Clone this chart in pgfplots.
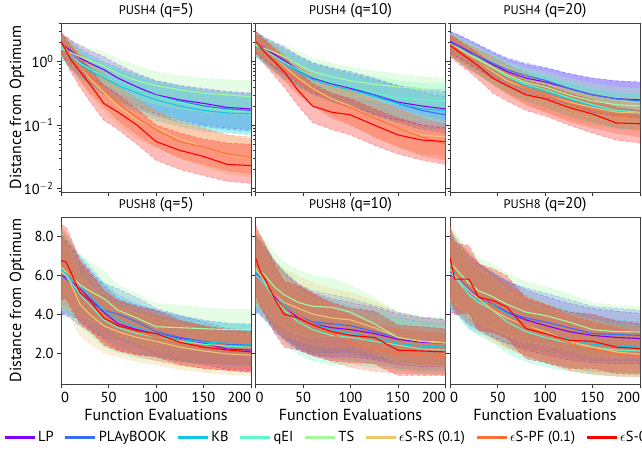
\documentclass[border=0pt]{standalone}
\usepackage{fontspec}
\setmainfont{PT Sans}
\usepackage{pgfplots}
\usepackage{pgfplotstable}
\pgfplotsset{compat=1.18}
\usepgfplotslibrary{fillbetween}

\definecolor{cLP}{HTML}{8000FF}
\definecolor{cPB}{HTML}{376FF9}
\definecolor{cKB}{HTML}{12C7E6}
\definecolor{cQE}{HTML}{5BF9C7}
\definecolor{cTS}{HTML}{A4F99F}
\definecolor{cRS}{HTML}{EDC76F}
\definecolor{cPF}{HTML}{FF6F39}
\definecolor{cE0}{HTML}{FF0000}

% ---------- push4, q=5 ----------
\pgfplotstableread[header=has colnames]{
x 0 5 10 20 30 45 60 80 100 125 150 175 200
Pm 1.9 1.7 1.5 1.15 0.95 0.75 0.55 0.40 0.30 0.25 0.22 0.19 0.18
Pl 1.3 1.1 0.95 0.7 0.55 0.42 0.3 0.2 0.15 0.12 0.1 0.09 0.085
Ph 2.7 2.5 2.2 1.8 1.5 1.2 0.9 0.65 0.5 0.42 0.38 0.34 0.32
Bm 1.8 1.6 1.35 1.0 0.8 0.6 0.46 0.36 0.29 0.24 0.20 0.18 0.17
Bl 1.2 1.0 0.85 0.6 0.45 0.32 0.24 0.18 0.14 0.11 0.095 0.085 0.08
Bh 2.6 2.4 2.1 1.6 1.3 1.0 0.8 0.62 0.5 0.42 0.36 0.33 0.31
Km 1.7 1.45 1.2 0.9 0.72 0.55 0.42 0.32 0.25 0.2 0.17 0.155 0.15
Kl 1.1 0.95 0.75 0.55 0.42 0.3 0.22 0.16 0.12 0.095 0.08 0.075 0.07
Kh 2.5 2.2 1.9 1.45 1.15 0.9 0.72 0.56 0.45 0.38 0.33 0.3 0.29
Qm 1.8 1.55 1.3 0.95 0.78 0.6 0.46 0.36 0.29 0.23 0.19 0.17 0.16
Ql 1.2 1.0 0.8 0.58 0.45 0.33 0.24 0.18 0.14 0.11 0.09 0.08 0.075
Qh 2.6 2.3 2.0 1.5 1.25 1.0 0.8 0.62 0.5 0.42 0.36 0.33 0.31
Tm 1.6 1.5 1.4 1.2 1.05 0.85 0.65 0.5 0.42 0.36 0.32 0.30 0.28
Tl 1.1 1.0 0.9 0.75 0.62 0.48 0.35 0.26 0.21 0.18 0.16 0.15 0.14
Th 2.4 2.3 2.1 1.85 1.65 1.4 1.1 0.85 0.7 0.6 0.55 0.52 0.5
Ym 2.0 1.6 1.3 0.85 0.55 0.33 0.20 0.12 0.09 0.06 0.045 0.034 0.030
Yl 1.3 1.0 0.8 0.5 0.3 0.17 0.1 0.06 0.045 0.03 0.022 0.017 0.015
Yh 2.9 2.4 2.0 1.4 0.95 0.6 0.38 0.24 0.17 0.12 0.09 0.07 0.06
Om 2.0 1.6 1.3 0.85 0.6 0.36 0.22 0.13 0.085 0.055 0.045 0.035 0.031
Ol 1.3 1.0 0.8 0.5 0.33 0.2 0.12 0.07 0.045 0.03 0.024 0.019 0.017
Oh 2.9 2.4 2.0 1.4 1.0 0.65 0.42 0.26 0.17 0.11 0.09 0.07 0.065
Rm 2.1 1.5 1.1 0.7 0.45 0.22 0.16 0.10 0.055 0.040 0.032 0.024 0.023
Rl 1.4 1.0 0.7 0.4 0.24 0.12 0.085 0.05 0.028 0.02 0.016 0.013 0.012
Rh 3.0 2.3 1.8 1.2 0.8 0.42 0.30 0.18 0.10 0.075 0.06 0.052 0.050
}\rawA
% ---------- push4, q=10 ----------
\pgfplotstableread[header=has colnames]{
x 0 5 10 20 30 45 60 80 100 125 150 175 200
Pm 2.0 1.8 1.6 1.3 1.05 0.75 0.55 0.45 0.38 0.3 0.23 0.2 0.18
Pl 1.35 1.2 1.05 0.82 0.65 0.45 0.32 0.25 0.2 0.15 0.12 0.1 0.09
Ph 2.9 2.7 2.4 2.0 1.7 1.25 0.95 0.78 0.66 0.53 0.42 0.37 0.34
Bm 1.9 1.7 1.5 1.2 1.0 0.72 0.56 0.46 0.4 0.3 0.22 0.17 0.145
Bl 1.25 1.1 0.98 0.75 0.6 0.42 0.32 0.25 0.21 0.15 0.11 0.085 0.075
Bh 2.8 2.6 2.3 1.9 1.6 1.2 0.95 0.8 0.7 0.55 0.42 0.33 0.28
Km 1.8 1.6 1.4 1.1 0.9 0.68 0.52 0.42 0.36 0.28 0.22 0.18 0.17
Kl 1.2 1.05 0.9 0.68 0.54 0.4 0.3 0.23 0.19 0.14 0.11 0.09 0.085
Kh 2.7 2.5 2.2 1.75 1.45 1.1 0.88 0.72 0.62 0.5 0.4 0.34 0.32
Qm 1.9 1.7 1.5 1.2 0.98 0.75 0.58 0.47 0.4 0.32 0.27 0.25 0.24
Ql 1.25 1.1 0.98 0.75 0.6 0.45 0.33 0.26 0.21 0.16 0.13 0.12 0.11
Qh 2.8 2.6 2.3 1.9 1.6 1.25 1.0 0.82 0.7 0.58 0.5 0.46 0.44
Tm 1.8 1.7 1.6 1.4 1.2 0.9 0.7 0.58 0.5 0.44 0.4 0.37 0.36
Tl 1.2 1.1 1.05 0.9 0.76 0.55 0.42 0.33 0.28 0.24 0.21 0.19 0.18
Th 2.7 2.6 2.4 2.1 1.85 1.45 1.15 0.95 0.82 0.72 0.64 0.58 0.55
Ym 2.0 1.7 1.5 1.1 0.85 0.55 0.38 0.26 0.2 0.13 0.09 0.07 0.065
Yl 1.35 1.1 1.0 0.7 0.52 0.32 0.21 0.14 0.1 0.065 0.045 0.035 0.032
Yh 2.9 2.5 2.2 1.7 1.35 0.9 0.65 0.47 0.37 0.26 0.18 0.14 0.12
Om 2.1 1.8 1.5 1.1 0.8 0.5 0.35 0.24 0.19 0.13 0.09 0.065 0.05
Ol 1.4 1.2 1.0 0.7 0.5 0.3 0.2 0.13 0.1 0.065 0.045 0.033 0.028
Oh 3.0 2.6 2.2 1.7 1.3 0.85 0.62 0.45 0.35 0.25 0.18 0.13 0.1
Rm 2.1 1.7 1.4 1.0 0.7 0.35 0.2 0.16 0.145 0.1 0.07 0.058 0.055
Rl 1.4 1.1 0.9 0.6 0.4 0.2 0.11 0.085 0.07 0.048 0.035 0.028 0.024
Rh 3.0 2.6 2.2 1.6 1.2 0.7 0.45 0.32 0.26 0.18 0.13 0.1 0.09
}\rawB
% ---------- push4, q=20 ----------
\pgfplotstableread[header=has colnames]{
x 0 5 10 20 30 45 60 80 100 125 150 175 200
Pm 2.1 1.9 1.75 1.45 1.2 0.9 0.7 0.55 0.48 0.38 0.3 0.26 0.25
Pl 1.4 1.25 1.15 0.92 0.75 0.55 0.42 0.32 0.27 0.21 0.16 0.14 0.13
Ph 3.0 2.8 2.6 2.2 1.85 1.4 1.1 0.9 0.8 0.65 0.55 0.5 0.48
Bm 2.0 1.85 1.7 1.4 1.2 0.95 0.75 0.6 0.51 0.38 0.3 0.26 0.24
Bl 1.3 1.2 1.1 0.9 0.75 0.58 0.45 0.35 0.29 0.21 0.16 0.14 0.13
Bh 3.0 2.8 2.6 2.2 1.85 1.45 1.15 0.95 0.82 0.65 0.55 0.5 0.47
Km 1.8 1.65 1.5 1.2 1.0 0.72 0.55 0.42 0.34 0.26 0.2 0.17 0.163
Kl 1.2 1.1 0.98 0.76 0.62 0.44 0.32 0.24 0.19 0.14 0.11 0.09 0.085
Kh 2.7 2.5 2.3 1.85 1.55 1.15 0.88 0.7 0.58 0.45 0.36 0.31 0.3
Qm 1.9 1.7 1.55 1.25 1.05 0.78 0.58 0.44 0.36 0.27 0.21 0.17 0.16
Ql 1.25 1.1 1.0 0.78 0.65 0.47 0.34 0.25 0.2 0.15 0.11 0.09 0.085
Qh 2.8 2.6 2.35 1.95 1.65 1.25 0.95 0.75 0.62 0.48 0.38 0.32 0.3
Tm 1.9 1.75 1.6 1.3 1.1 0.82 0.62 0.47 0.4 0.3 0.24 0.21 0.2
Tl 1.25 1.15 1.05 0.82 0.68 0.5 0.37 0.27 0.22 0.16 0.13 0.11 0.1
Th 2.8 2.6 2.4 2.0 1.7 1.3 1.0 0.8 0.7 0.55 0.45 0.4 0.38
Ym 1.9 1.7 1.5 1.25 1.0 0.7 0.5 0.38 0.3 0.23 0.19 0.16 0.155
Yl 1.25 1.1 0.98 0.78 0.62 0.42 0.29 0.21 0.16 0.12 0.1 0.085 0.08
Yh 2.8 2.5 2.2 1.85 1.55 1.1 0.82 0.63 0.5 0.38 0.31 0.27 0.26
Om 1.9 1.7 1.5 1.2 1.0 0.75 0.55 0.38 0.3 0.22 0.17 0.14 0.13
Ol 1.25 1.1 0.98 0.76 0.62 0.45 0.32 0.21 0.16 0.115 0.09 0.075 0.065
Oh 2.8 2.5 2.2 1.8 1.55 1.2 0.9 0.65 0.5 0.37 0.29 0.24 0.22
Rm 1.8 1.6 1.4 1.1 0.85 0.55 0.42 0.3 0.26 0.19 0.15 0.108 0.105
Rl 1.2 1.05 0.9 0.7 0.52 0.32 0.24 0.17 0.14 0.1 0.075 0.058 0.052
Rh 2.6 2.4 2.1 1.7 1.35 0.9 0.7 0.5 0.43 0.32 0.25 0.19 0.17
}\rawC
% ---------- push8, q=5 ----------
\pgfplotstableread[header=has colnames]{
x 0 5 10 20 30 45 60 80 100 125 150 175 200
Pm 6.0 5.9 5.7 5.3 4.8 4.1 3.5 3.2 3.0 2.75 2.5 2.2 2.14
Pl 4.0 4.0 3.9 3.7 3.3 2.7 2.2 1.95 1.8 1.6 1.4 1.15 1.1
Ph 8.0 7.8 7.5 6.9 6.3 5.5 4.8 4.45 4.2 3.9 3.6 3.25 3.2
Bm 6.0 5.8 5.6 5.0 4.6 4.2 4.0 3.6 3.1 2.8 2.6 2.45 2.4
Bl 4.0 3.9 3.8 3.4 3.1 2.8 2.7 2.35 1.9 1.65 1.5 1.4 1.35
Bh 8.0 7.7 7.4 6.6 6.1 5.6 5.3 4.85 4.3 3.95 3.7 3.5 3.45
Km 6.3 6.1 5.8 5.4 5.0 4.2 3.7 3.3 3.0 2.7 2.55 2.5 2.45
Kl 4.3 4.2 4.0 3.8 3.5 2.8 2.4 2.05 1.8 1.55 1.45 1.45 1.4
Kh 8.3 8.0 7.6 7.0 6.5 5.6 5.0 4.55 4.2 3.85 3.65 3.55 3.5
Qm 6.2 6.0 5.7 5.0 4.5 3.7 3.3 3.0 2.8 2.6 2.45 2.35 2.3
Ql 4.2 4.1 3.9 3.4 3.0 2.3 2.0 1.75 1.6 1.45 1.35 1.3 1.25
Qh 8.2 7.9 7.5 6.6 6.0 5.1 4.6 4.25 4.0 3.75 3.55 3.4 3.35
Tm 6.4 6.2 6.0 5.5 5.2 4.8 4.2 3.8 3.35 3.3 3.25 3.2 3.2
Tl 4.4 4.3 4.2 3.9 3.7 3.4 2.9 2.55 2.15 2.15 2.15 2.15 2.15
Th 8.4 8.1 7.8 7.1 6.7 6.2 5.5 5.05 4.55 4.45 4.35 4.25 4.25
Ym 6.2 6.0 5.6 4.5 4.0 3.4 3.1 2.8 2.6 2.3 2.1 1.95 1.88
Yl 4.2 4.1 3.8 2.9 2.5 2.0 1.8 1.55 1.4 1.15 1.0 0.9 0.83
Yh 8.2 7.9 7.4 6.1 5.5 4.8 4.4 4.05 3.8 3.45 3.2 3.0 2.93
Om 6.5 6.3 6.0 5.2 4.6 3.9 3.4 3.1 2.8 2.5 2.3 2.15 2.05
Ol 4.5 4.4 4.2 3.6 3.1 2.5 2.1 1.85 1.6 1.35 1.2 1.1 1.0
Oh 8.5 8.2 7.8 6.8 6.1 5.3 4.7 4.35 4.0 3.65 3.4 3.2 3.1
Rm 6.75 6.7 6.2 5.1 4.7 3.8 3.4 3.15 3.0 2.55 2.3 2.15 2.05
Rl 4.75 4.8 4.4 3.5 3.2 2.4 2.1 1.9 1.8 1.4 1.2 1.1 1.0
Rh 8.6 8.5 8.0 6.7 6.2 5.2 4.7 4.4 4.2 3.7 3.4 3.2 3.1
}\rawD
% ---------- push8, q=10 ----------
\pgfplotstableread[header=has colnames]{
x 0 5 10 20 30 45 60 80 100 125 150 175 200
Pm 6.0 5.8 5.5 4.9 4.4 3.8 3.5 3.3 3.2 3.0 2.7 2.55 2.5
Pl 4.1 3.95 3.7 3.15 2.7 2.15 1.9 1.8 1.8 1.65 1.4 1.3 1.3
Ph 7.9 7.65 7.3 6.65 6.1 5.45 5.1 4.8 4.6 4.35 4.0 3.8 3.7
Bm 6.1 5.9 5.6 5.0 4.5 3.9 3.6 3.5 3.4 3.1 2.8 2.6 2.56
Bl 4.2 4.05 3.8 3.25 2.8 2.25 2.0 2.0 2.0 1.75 1.5 1.35 1.36
Bh 8.0 7.75 7.4 6.75 6.2 5.55 5.2 5.0 4.8 4.45 4.1 3.85 3.76
Km 6.2 6.0 5.7 5.0 4.5 3.9 3.5 3.2 3.0 2.8 2.5 2.35 2.3
Kl 4.3 4.15 3.9 3.25 2.8 2.25 1.9 1.7 1.6 1.45 1.2 1.1 1.1
Kh 8.1 7.85 7.5 6.75 6.2 5.55 5.1 4.7 4.4 4.15 3.8 3.6 3.5
Qm 6.0 5.8 5.5 4.8 4.2 3.6 3.2 2.9 2.8 2.6 2.4 2.2 2.15
Ql 4.1 3.95 3.7 3.05 2.5 1.95 1.6 1.4 1.4 1.25 1.1 0.95 0.95
Qh 7.9 7.65 7.3 6.55 5.9 5.25 4.8 4.4 4.2 3.95 3.7 3.45 3.35
Tm 6.4 6.2 6.0 5.4 5.0 4.6 4.4 4.35 4.1 3.5 2.8 2.6 2.55
Tl 4.5 4.35 4.2 3.65 3.3 2.95 2.8 2.85 2.7 2.15 1.5 1.35 1.35
Th 8.3 8.05 7.8 7.15 6.7 6.25 6.0 5.85 5.5 4.85 4.1 3.85 3.75
Ym 6.3 6.0 5.6 5.0 4.6 4.3 4.0 3.8 3.7 3.3 2.8 2.6 2.5
Yl 4.4 4.15 3.8 3.25 2.9 2.65 2.4 2.3 2.3 1.95 1.5 1.35 1.3
Yh 8.2 7.85 7.4 6.75 6.3 5.95 5.6 5.3 5.1 4.65 4.1 3.85 3.7
Om 6.5 6.2 5.8 5.0 4.4 3.9 3.5 3.0 2.5 2.2 2.0 1.9 1.8
Ol 4.6 4.35 4.0 3.25 2.7 2.25 1.9 1.55 1.25 1.05 0.95 0.9 0.85
Oh 8.4 8.05 7.6 6.75 6.1 5.55 5.1 4.5 3.9 3.5 3.25 3.1 3.0
Rm 6.9 6.2 5.8 4.8 4.0 3.8 3.45 3.1 2.9 2.8 2.14 2.1 2.05
Rl 5.0 4.35 4.0 3.05 2.3 2.15 1.85 1.6 1.5 1.45 0.84 0.85 0.85
Rh 8.6 8.05 7.6 6.55 5.7 5.45 5.05 4.6 4.3 4.15 3.44 3.35 3.25
}\rawE
% ---------- push8, q=20 ----------
\pgfplotstableread[header=has colnames]{
x 0 5 10 20 30 45 60 80 100 125 150 175 200
Pm 6.0 5.9 5.7 5.2 4.9 4.5 4.1 3.7 3.42 3.1 2.9 2.8 2.74
Pl 4.1 4.05 3.9 3.45 3.2 2.85 2.5 2.15 1.92 1.65 1.5 1.45 1.44
Ph 7.9 7.75 7.5 6.95 6.6 6.15 5.7 5.25 4.92 4.55 4.3 4.15 4.04
Bm 6.2 6.0 5.8 5.3 4.9 4.4 4.1 3.8 3.6 3.3 3.0 2.95 2.9
Bl 4.3 4.15 4.0 3.55 3.2 2.75 2.5 2.25 2.1 1.85 1.6 1.6 1.6
Bh 8.1 7.85 7.6 7.05 6.6 6.05 5.7 5.35 5.1 4.75 4.4 4.3 4.2
Km 6.4 6.1 5.7 5.0 4.7 4.5 4.0 3.4 3.0 2.7 2.45 2.35 2.3
Kl 4.5 4.25 3.9 3.25 3.0 2.85 2.4 1.85 1.5 1.25 1.05 1.0 1.0
Kh 8.3 7.95 7.5 6.75 6.4 6.15 5.6 4.95 4.5 4.15 3.85 3.7 3.6
Qm 6.1 5.9 5.6 5.0 4.6 4.2 3.6 3.1 2.8 2.5 2.3 2.15 2.1
Ql 4.2 4.05 3.8 3.25 2.9 2.55 2.0 1.55 1.3 1.05 0.9 0.8 0.8
Qh 8.0 7.75 7.4 6.75 6.3 5.85 5.2 4.65 4.3 3.95 3.7 3.5 3.4
Tm 6.6 6.4 6.1 5.6 5.2 4.9 4.5 4.1 3.93 3.6 3.2 3.1 3.08
Tl 4.7 4.55 4.3 3.85 3.5 3.25 2.9 2.55 2.43 2.15 1.8 1.75 1.78
Th 8.5 8.25 7.9 7.35 6.9 6.55 6.1 5.65 5.43 5.05 4.6 4.45 4.38
Ym 6.3 6.0 5.7 5.2 4.8 4.2 3.8 3.4 3.1 2.6 2.3 2.05 1.93
Yl 4.4 4.15 3.9 3.45 3.1 2.55 2.2 1.85 1.6 1.2 1.0 0.9 0.85
Yh 8.2 7.85 7.5 6.95 6.5 5.85 5.4 4.95 4.6 4.05 3.7 3.4 3.23
Om 6.5 6.2 5.9 5.4 5.0 4.4 3.9 3.4 3.0 2.5 2.2 1.95 1.8
Ol 4.6 4.35 4.1 3.65 3.3 2.75 2.3 1.85 1.5 1.1 0.9 0.8 0.75
Oh 8.4 8.05 7.7 7.15 6.7 6.05 5.5 4.95 4.5 3.95 3.6 3.3 3.1
Rm 6.9 5.8 5.8 5.8 4.87 4.7 4.36 3.25 3.0 2.65 2.6 2.3 2.22
Rl 5.0 3.95 4.0 4.05 3.17 3.05 2.76 1.7 1.5 1.2 1.2 0.95 0.92
Rh 8.6 7.65 7.6 7.55 6.57 6.35 5.96 4.8 4.5 4.1 4.0 3.65 3.52
}\rawF

\pgfplotstabletranspose[colnames from=x]{\tA}{\rawA}
\pgfplotstabletranspose[colnames from=x]{\tB}{\rawB}
\pgfplotstabletranspose[colnames from=x]{\tC}{\rawC}
\pgfplotstabletranspose[colnames from=x]{\tD}{\rawD}
\pgfplotstabletranspose[colnames from=x]{\tE}{\rawE}
\pgfplotstabletranspose[colnames from=x]{\tF}{\rawF}

\newcommand{\band}[3]{%
  \addplot[name path=L#2, draw=#3, draw opacity=0.4, dashed, line width=0.5pt, forget plot] table[x=colnames,y=#2l]{#1};
  \addplot[name path=H#2, draw=#3, draw opacity=0.4, dashed, line width=0.5pt, forget plot] table[x=colnames,y=#2h]{#1};
  \addplot[fill=#3, fill opacity=0.27, draw=none, forget plot] fill between[of=H#2 and L#2];
}
\newcommand{\meanline}[3]{%
  \addplot[draw=#3, line width=1.1pt, forget plot] table[x=colnames,y=#2m]{#1};
}
\newcommand{\allseries}[1]{%
  \band{#1}{P}{cLP}\band{#1}{B}{cPB}\band{#1}{K}{cKB}\band{#1}{Q}{cQE}%
  \band{#1}{T}{cTS}\band{#1}{Y}{cRS}\band{#1}{O}{cPF}\band{#1}{R}{cE0}%
  \meanline{#1}{P}{cLP}\meanline{#1}{B}{cPB}\meanline{#1}{K}{cKB}\meanline{#1}{Q}{cQE}%
  \meanline{#1}{T}{cTS}\meanline{#1}{Y}{cRS}\meanline{#1}{O}{cPF}\meanline{#1}{R}{cE0}%
}
\newcommand{\psc}[1]{{\fontsize{12.5}{14}\selectfont #1}}

\pgfplotsset{
  panelbase/.style={scale only axis, width=190pt, xmin=0, xmax=200,
    axis line style={draw=black!75, line width=0.8pt},
    every tick/.append style={black!80, line width=0.6pt},
    tick align=outside, xtick pos=bottom, ytick pos=left,
    major tick length=4pt, minor tick length=2.5pt,
    title style={font=\fontsize{15.5}{17}\selectfont, yshift=-4.5pt},
    tick label style={font=\fontsize{14.5}{16}\selectfont},
    label style={font=\fontsize{16}{18}\selectfont},
    ylabel style={at={(axis description cs:-0.232,0.5)}, anchor=center},
    xtick={0,50,100,150,200}},
  toprowopts/.style={panelbase, height=169pt, ymin=0.00881, ymax=4.07,
    xticklabels={}, ytick={0.01,0.1,1}, yticklabels={},
    minor ytick={0.009,0.02,0.03,0.04,0.05,0.06,0.07,0.08,0.09,0.2,0.3,0.4,0.5,0.6,0.7,0.8,0.9,2,3,4}},
  botrowopts/.style={panelbase, height=167pt, ymin=0.4, ymax=9.0,
    ytick={2,4,6,8}, yticklabels={},
    xticklabels={\rlap{0},50,100,150,\llap{200}},
    xticklabel style={yshift=-1pt},
    xlabel={Function Evaluations}, xlabel style={yshift=1pt}},
}

\begin{document}
\begin{tikzpicture}
\begin{semilogyaxis}[toprowopts, at={(61pt,430pt)}, anchor=north west,
  title={\psc{PUSH4} (q=5)}, ylabel={Distance from Optimum},
  yticklabels={10\textsuperscript{$-$2},10\textsuperscript{$-$1},10\textsuperscript{0}}]
\allseries{\tA}
\end{semilogyaxis}
\begin{semilogyaxis}[toprowopts, at={(255.5pt,430pt)}, anchor=north west, title={\psc{PUSH4} (q=10)}]
\allseries{\tB}
\end{semilogyaxis}
\begin{semilogyaxis}[toprowopts, at={(450pt,430pt)}, anchor=north west, title={\psc{PUSH4} (q=20)}]
\allseries{\tC}
\end{semilogyaxis}
\begin{axis}[botrowopts, at={(61pt,236pt)}, anchor=north west,
  title={\psc{PUSH8} (q=5)}, ylabel={Distance from Optimum},
  yticklabels={2.0,4.0,6.0,8.0}]
\allseries{\tD}
\end{axis}
\begin{axis}[botrowopts, at={(255.5pt,236pt)}, anchor=north west, title={\psc{PUSH8} (q=10)}]
\allseries{\tE}
\end{axis}
\begin{axis}[botrowopts, at={(450pt,236pt)}, anchor=north west, title={\psc{PUSH8} (q=20)}]
\allseries{\tF}
\end{axis}
% legend
\begin{axis}[at={(0pt,16pt)}, anchor=west, hide axis, scale only axis,
  width=10pt, height=10pt, xmin=0, xmax=1, ymin=0, ymax=1,
  legend style={at={(0,0.5)}, anchor=west, draw=none, fill=none,
    legend columns=8, font=\fontsize{14.5}{16}\selectfont,
    /tikz/every even column/.append style={column sep=8pt}},
  legend cell align=left,
  legend image code/.code={\draw[#1, line width=3pt] (0pt,0pt) -- (30pt,0pt);}]
\addlegendimage{cLP}\addlegendentry{LP}
\addlegendimage{cPB}\addlegendentry{PLAyBOOK}
\addlegendimage{cKB}\addlegendentry{KB}
\addlegendimage{cQE}\addlegendentry{qEI}
\addlegendimage{cTS}\addlegendentry{TS}
\addlegendimage{cRS}\addlegendentry{$\epsilon$S-RS (0.1)}
\addlegendimage{cPF}\addlegendentry{$\epsilon$S-PF (0.1)}
\addlegendimage{cE0}\addlegendentry{$\epsilon$S-0.1}
\end{axis}
\pgfresetboundingbox
\useasboundingbox (0,0) rectangle (642pt,453pt);
\end{tikzpicture}
\end{document}
